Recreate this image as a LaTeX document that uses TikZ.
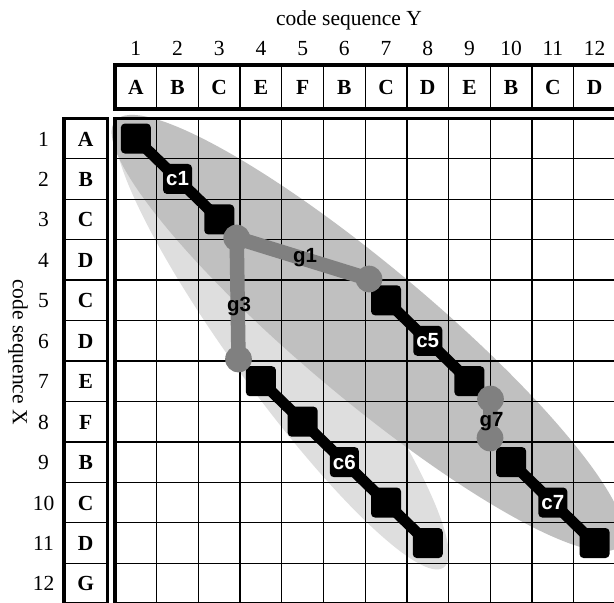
\documentclass[tikz,border=0pt]{standalone}
\usepackage{fontspec}
\setmainfont{Liberation Serif}
\setsansfont{Liberation Sans}
\definecolor{lightg}{RGB}{222,222,222}
\definecolor{darkg}{RGB}{192,192,192}
\definecolor{gcol}{RGB}{128,128,128}
\pgfdeclarelayer{ellip}
\pgfdeclarelayer{gridl}
\pgfdeclarelayer{links}
\pgfsetlayers{ellip,gridl,links,main}
\begin{document}
\begin{tikzpicture}[x=1pt,y=-1pt,
  gridline/.style={line width=1.3pt},
  border/.style={line width=3.3pt},
  sq/.style={fill=black, rounded corners=4pt, minimum width=30pt, minimum height=30pt, inner sep=0pt},
  clab/.style={fill=black, rounded corners=4pt, minimum width=29pt, minimum height=30pt, inner sep=0pt, text=white, font=\sffamily\bfseries\fontsize{20.5}{20.5}\selectfont},
  gdot/.style={circle, fill=gcol, minimum size=26.7pt, inner sep=0pt},
  glab/.style={font=\sffamily\bfseries\fontsize{20.5}{20.5}\selectfont, inner sep=0pt},
  conn/.style={line width=11pt, draw=black},
  gline/.style={line width=14.5pt, draw=gcol},
  hdr/.style={font=\bfseries\fontsize{21.5}{21.5}\selectfont, anchor=base, inner sep=0pt},
  num/.style={font=\fontsize{21.5}{21.5}\selectfont, anchor=base, inner sep=0pt}
]
\def\cw{41.7}
\def\rh{40.45}
\def\gx{115}
\def\gy{118.3}
\clip (0,0) rectangle (614,603);
\foreach \r in {1,...,12}{\foreach \c in {1,...,12}{\coordinate (p-\r-\c) at ({\gx+(\c-0.5)*\cw},{\gy+(\r-0.5)*\rh});}}

% ellipses
\begin{pgfonlayer}{ellip}
\fill[lightg, rotate around={-54:(282,345)}] (282,345) ellipse [x radius=275pt, y radius=50pt];
\fill[darkg, rotate around={-40:(368,333)}] (368,333) ellipse [x radius=330pt, y radius=66pt];
\end{pgfonlayer}

% grid
\begin{pgfonlayer}{gridl}
\foreach \c in {1,...,11}{
  \draw[gridline] ({\gx+\c*\cw},\gy) -- ({\gx+\c*\cw},{\gy+12*\rh});
  \draw[gridline] ({\gx+\c*\cw},65) -- ({\gx+\c*\cw},109);
}
\foreach \r in {1,...,11}{
  \draw[gridline] (\gx,{\gy+\r*\rh}) -- ({\gx+12*\cw},{\gy+\r*\rh});
  \draw[gridline] (64,{\gy+\r*\rh}) -- (107.5,{\gy+\r*\rh});
}
\draw[border] (\gx,\gy) rectangle ({\gx+12*\cw},{\gy+12*\rh});
\draw[border] (\gx,65) rectangle ({\gx+12*\cw},109);
\draw[border] (64,\gy) rectangle (107.5,{\gy+12*\rh});
\end{pgfonlayer}

% headers
\node[num] (ty) at (349,25) {code sequence Y};
\node[num, anchor=center, rotate=-90] (tx) at (18,352) {code sequence X};
\foreach \l [count=\c] in {A,B,C,E,F,B,C,D,E,B,C,D}{
  \node[num] (cn\c) at ({\gx+(\c-0.5)*\cw},55) {\c};
  \node[hdr] (ch\c) at ({\gx+(\c-0.5)*\cw},94) {\l};
}
\foreach \l [count=\r] in {A,B,C,D,C,D,E,F,B,C,D,G}{
  \node[num] (rn\r) at (43.5,{\gy+(\r-0.5)*\rh+7.5}) {\r};
  \node[hdr] (rh\r) at (85.75,{\gy+(\r-0.5)*\rh+7.5}) {\l};
}

% black chains
\node[sq] (s11) at (p-1-1) {};
\node[sq] (s33) at (p-3-3) {};
\node[sq] (s57) at (p-5-7) {};
\node[sq] (s79) at (p-7-9) {};
\node[sq] (s74) at (p-7-4) {};
\node[sq] (s85) at (p-8-5) {};
\node[sq] (s107) at (p-10-7) {};
\node[sq] (s118) at (p-11-8) {};
\node[sq] (s910) at (p-9-10) {};
\node[sq] (s1112) at (p-11-12) {};
\node[clab] (c1) at (p-2-2) {c1};
\node[clab] (c5) at (p-6-8) {c5};
\node[clab] (c6) at (p-9-6) {c6};
\node[clab] (c7) at (p-10-11) {c7};

% gray gap markers
\node[gdot] (jn) at (236.7,238) {};
\node[gdot] (e1) at (369,279) {};
\node[gdot] (e3) at (238.5,359) {};
\node[gdot] (ga) at (490.5,399) {};
\node[gdot] (gb) at (490,438) {};
\node[glab] (g1) at (305,258) {g1};
\node[glab] (g3) at (239,306.5) {g3};
\node[glab] (g7) at (491.5,421.5) {g7};

\begin{pgfonlayer}{links}
\draw[gline] (e1.center) -- (jn.center) -- (e3.center);
\draw[gline] (ga.center) -- (gb.center);
\draw[conn] (s11.center) -- (c1.center) -- (s33.center);
\draw[conn] (s57.center) -- (c5.center) -- (s79.center);
\draw[conn] (s74.center) -- (s85.center) -- (c6.center) -- (s107.center) -- (s118.center);
\draw[conn] (s910.center) -- (c7.center) -- (s1112.center);
\end{pgfonlayer}
\end{tikzpicture}
\end{document}
